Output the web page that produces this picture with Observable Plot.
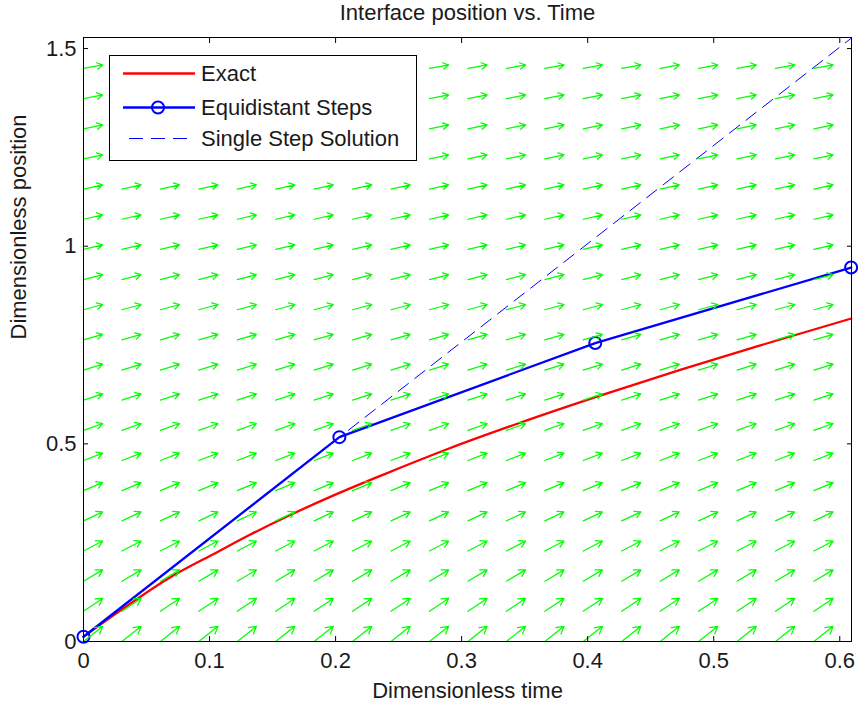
<!DOCTYPE html>
<html>
<head>
<meta charset="utf-8">
<script src="https://cdn.jsdelivr.net/npm/d3@7"></script>
<script src="https://cdn.jsdelivr.net/npm/@observablehq/plot@0.6"></script>
<style>
  body { margin: 0; background: #fff; }
  #wrap { position: relative; width: 858px; height: 709px; font-family: "Liberation Sans", Arial, sans-serif; }
  #legend { position: absolute; left: 109px; top: 55px; width: 308px; height: 106px; }
</style>
</head>
<body>
<div id="wrap"><div id="legend"></div></div>
<script>
// ---- data ----
const titleText = "Interface position vs. Time";
const xLabel = "Dimensionless time";
const yLabel = "Dimensionless position";
const xTicks = [0, 0.1, 0.2, 0.3, 0.4, 0.5, 0.6];
const yTicks = [0, 0.5, 1, 1.5];

const exactT = [0, 0.03, 0.066, 0.106, 0.132, 0.164, 0.198, 0.237, 0.289, 0.347, 0.408, 0.474, 0.54, 0.609];
const exactS = [0.012, 0.08, 0.157, 0.226, 0.27, 0.32, 0.369, 0.421, 0.487, 0.554, 0.62, 0.688, 0.752, 0.817];

const stepT = [0, 0.203, 0.406, 0.609];
const stepS = [0.012, 0.517, 0.755, 0.946];

const singleT = [0, 0.609];
const singleS = [0.012, 1.526];

// direction field grid (columns in time, rows in position) and slope per row
const gridT = [0, 0.0305, 0.061, 0.0915, 0.122, 0.1525, 0.183, 0.2135, 0.244, 0.2745, 0.305, 0.3355, 0.366, 0.3965, 0.427, 0.4575, 0.488, 0.5185, 0.549, 0.5795];
const gridS = [0, 0.0763, 0.1526, 0.2289, 0.3052, 0.3815, 0.4578, 0.5341, 0.6104, 0.6867, 0.763, 0.8393, 0.9156, 0.9919, 1.0682, 1.1445, 1.2208, 1.2971, 1.3734, 1.4497];
const rowSlopes = [2.52, 2.15, 1.88, 1.66, 1.49, 1.35, 1.24, 1.14, 1.06, 0.98, 0.92, 0.87, 0.82, 0.77, 0.73, 0.70, 0.67, 0.64, 0.61, 0.58];

const legendLabels = ["Exact", "Equidistant Steps", "Single Step Solution"];

// ---- tables built from the arrays ----
const exact = exactT.map((t, i) => ({t, s: exactS[i]}));
const steps = stepT.map((t, i) => ({t, s: stepS[i]}));
const single = singleT.map((t, i) => ({t, s: singleS[i]}));
const arrowScale = 0.0152;
const field = [];
gridS.forEach((s, j) => gridT.forEach(t => field.push({t, s, t2: t + arrowScale, s2: s + arrowScale * rowSlopes[j]})));

const FONT = "Liberation Sans, Arial, sans-serif";
const FS = 22;

const chart = Plot.plot({
  width: 858,
  height: 709,
  marginLeft: 83,
  marginRight: 7,
  marginTop: 37,
  marginBottom: 68,
  style: {fontFamily: FONT, fontSize: FS + "px", color: "#1a1a1a", background: "#fff", overflow: "visible"},
  x: {domain: [0, 0.6093]},
  y: {domain: [0, 1.528]},
  marks: [
    Plot.line(exact, {x: "t", y: "s", stroke: "#ff0000", strokeWidth: 2.3, curve: "monotone-x"}),
    Plot.line(single, {x: "t", y: "s", stroke: "#0000ff", strokeWidth: 1, strokeDasharray: "13,8"}),
    Plot.line(steps, {x: "t", y: "s", stroke: "#0000ff", strokeWidth: 2.3}),
    Plot.dot(steps, {x: "t", y: "s", r: 6, stroke: "#0000ff", strokeWidth: 2, fill: "none"}),
    Plot.arrow(field, {x1: "t", y1: "s", x2: "t2", y2: "s2", stroke: "#00ff00", strokeWidth: 1.25, headLength: 10, headAngle: 60, bend: 0}),
    Plot.axisX({ticks: xTicks, anchor: "bottom", tickSize: -5, tickPadding: 16, tickFormat: d => String(d), label: null, stroke: "#000"}),
    Plot.axisX({ticks: xTicks, anchor: "top", tickSize: -5, tickFormat: () => "", label: null, stroke: "#000"}),
    Plot.axisY({ticks: yTicks, anchor: "left", tickSize: -5, tickPadding: 12, tickFormat: d => String(d), label: null, stroke: "#000"}),
    Plot.axisY({ticks: yTicks, anchor: "right", tickSize: -5, tickFormat: () => "", label: null, stroke: "#000"}),
    Plot.frame({stroke: "#000", strokeWidth: 1}),
    Plot.text([titleText], {text: d => d, frameAnchor: "top", dy: -25, lineAnchor: "middle", fontSize: FS}),
    Plot.text([xLabel], {text: d => d, frameAnchor: "bottom", dy: 49, lineAnchor: "middle", fontSize: FS}),
    Plot.text([yLabel], {text: d => d, frameAnchor: "left", dx: -65, rotate: -90, lineAnchor: "middle", fontSize: FS})
  ]
});
document.getElementById("wrap").prepend(chart);

// ---- legend ----
const NS = "http://www.w3.org/2000/svg";
const lg = document.createElementNS(NS, "svg");
lg.setAttribute("width", 308); lg.setAttribute("height", 106);
lg.style.fontFamily = FONT;
function el(name, attrs) { const e = document.createElementNS(NS, name); for (const k in attrs) e.setAttribute(k, attrs[k]); lg.appendChild(e); return e; }
el("rect", {x: 0.5, y: 0.5, width: 307, height: 105, fill: "#fff", stroke: "#000", "stroke-width": 1});
const rowsY = [18.5, 52.5, 83.5];
el("line", {x1: 14, x2: 86, y1: rowsY[0], y2: rowsY[0], stroke: "#ff0000", "stroke-width": 2.3});
el("line", {x1: 14, x2: 86, y1: rowsY[1], y2: rowsY[1], stroke: "#0000ff", "stroke-width": 2.3});
el("circle", {cx: 49, cy: rowsY[1], r: 6, fill: "none", stroke: "#0000ff", "stroke-width": 2});
el("line", {x1: 20, x2: 86, y1: rowsY[2], y2: rowsY[2], stroke: "#0000ff", "stroke-width": 1, "stroke-dasharray": "14,8"});
legendLabels.forEach((t, i) => {
  const tx = el("text", {x: 92, y: rowsY[i], "font-size": FS, "dominant-baseline": "central", fill: "#1a1a1a"});
  tx.textContent = t;
});
document.getElementById("legend").appendChild(lg);
</script>
</body>
</html>
